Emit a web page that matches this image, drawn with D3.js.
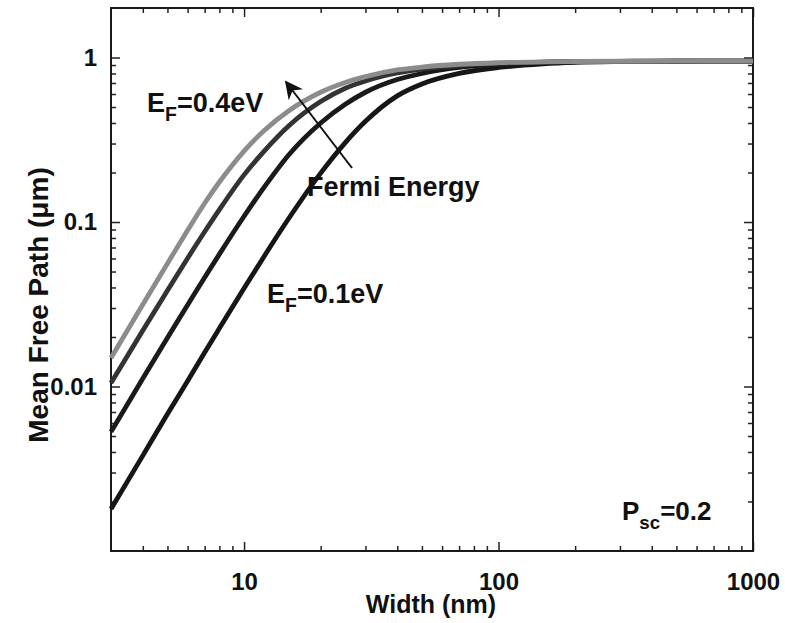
<!DOCTYPE html>
<html>
<head>
<meta charset="utf-8">
<script src="https://cdn.jsdelivr.net/npm/d3@7"></script>
<style>
body{margin:0;background:#fff;}
text{font-family:"Liberation Sans",Arial,Helvetica,sans-serif;font-weight:bold;fill:#111;}
.tick line{stroke:#222;stroke-width:1.5;}
</style>
</head>
<body>
<script>
// width (nm) sample points
var widths=[3,4,5,6,7,8,10,12,15,20,25,30,40,50,70,100,150,200,300,500,1000];
// mean free path (um) for each Fermi energy
var mfp01=[0.0018,0.0038,0.0068,0.0108,0.0161,0.0226,0.0396,0.0620,0.1054,0.1982,0.3041,0.4092,0.5843,0.69,0.80,0.87,0.915,0.933,0.944,0.949,0.95];
var mfp02=[0.0053,0.0112,0.0198,0.0313,0.0460,0.0638,0.1084,0.1628,0.2563,0.40,0.52,0.615,0.735,0.80,0.87,0.91,0.935,0.943,0.948,0.95,0.95];
var mfp03=[0.0105,0.0219,0.0384,0.0602,0.0872,0.1189,0.1934,0.27,0.385,0.54,0.65,0.72,0.805,0.85,0.895,0.922,0.938,0.944,0.948,0.95,0.95];
var mfp04=[0.0149,0.0315,0.056,0.089,0.13,0.175,0.27,0.36,0.475,0.615,0.705,0.765,0.84,0.875,0.91,0.93,0.942,0.946,0.949,0.95,0.95];

var xMajor=[10,100,1000];
var xMinor=[4,5,6,7,8,9,20,30,40,50,60,70,80,90,200,300,400,500,600,700,800,900];
var yMajor=[0.01,0.1,1];
var yMinor=[0.002,0.003,0.004,0.005,0.006,0.007,0.008,0.009,0.02,0.03,0.04,0.05,0.06,0.07,0.08,0.09,0.2,0.3,0.4,0.5,0.6,0.7,0.8,0.9];

var W=785, H=623;
var mLeft=111, mRight=753, mTop=8, mBottom=551;

var svg=d3.select("body").append("svg").attr("width",W).attr("height",H);

var x=d3.scaleLog().domain([3,1000]).range([mLeft,mRight]);
var y=d3.scaleLog().domain([0.001,2]).range([mBottom,mTop]);

function fmt(d) {
	return xMajor.indexOf(d)>=0 || yMajor.indexOf(d)>=0 ? String(d) : "";
}

function sizeTicks(g, majors) {
	g.selectAll(".tick").each(function(d) {
		var big=majors.indexOf(d)>=0;
		var ln=d3.select(this).select("line");
		var x2=+ln.attr("x2")||0, y2=+ln.attr("y2")||0;
		if (x2!=0) ln.attr("x2",(x2>0?1:-1)*(big?9:5));
		if (y2!=0) ln.attr("y2",(y2>0?1:-1)*(big?9:5));
	});
	g.select(".domain").remove();
}

function styleLabels(g) {
	g.selectAll("text").attr("font-size",24).attr("fill","#111")
		.style("font-family","Liberation Sans, Arial, sans-serif").style("font-weight","bold");
}

var xTicks=xMajor.concat(xMinor), yTicks=yMajor.concat(yMinor);

var gb=svg.append("g").attr("transform","translate(0,"+mBottom+")")
	.call(d3.axisBottom(x).tickValues(xTicks).tickFormat(fmt).tickSize(-9).tickPadding(22));
sizeTicks(gb,xMajor);
styleLabels(gb);

var gt=svg.append("g").attr("transform","translate(0,"+mTop+")")
	.call(d3.axisTop(x).tickValues(xTicks).tickFormat("").tickSize(-9));
sizeTicks(gt,xMajor);

var gl=svg.append("g").attr("transform","translate("+mLeft+",0)")
	.call(d3.axisLeft(y).tickValues(yTicks).tickFormat(fmt).tickSize(-9).tickPadding(14));
sizeTicks(gl,yMajor);
styleLabels(gl);

var gr=svg.append("g").attr("transform","translate("+mRight+",0)")
	.call(d3.axisRight(y).tickValues(yTicks).tickFormat("").tickSize(-9));
sizeTicks(gr,yMajor);

svg.append("rect").attr("x",mLeft).attr("y",mTop).attr("width",mRight-mLeft).attr("height",mBottom-mTop)
	.attr("fill","none").attr("stroke","#1a1a1a").attr("stroke-width",2);

// curves, lowest energy first so the grey one sits on top
var series=[
	{vals:mfp01,color:"#161616"},
	{vals:mfp02,color:"#1a1a1a"},
	{vals:mfp03,color:"#333333"},
	{vals:mfp04,color:"#8c8c8c"}
];
var line=d3.line().x(function(d){return x(d[0]);}).y(function(d){return y(d[1]);}).curve(d3.curveMonotoneX);
svg.selectAll(".curve").data(series).enter().append("path")
	.attr("class","curve")
	.attr("d",function(s){return line(widths.map(function(w,i){return [w,s.vals[i]];}));})
	.attr("fill","none").attr("stroke",function(s){return s.color;}).attr("stroke-width",4.8)
	.attr("stroke-linejoin","round");

// arrow
svg.append("defs").append("marker").attr("id","ah").attr("viewBox","0 0 10 10")
	.attr("refX",9).attr("refY",5).attr("markerWidth",9).attr("markerHeight",9).attr("orient","auto")
	.append("path").attr("d","M0,0L10,5L0,10L3,5Z").attr("fill","#111");
svg.append("line").attr("x1",352).attr("y1",168).attr("x2",286).attr("y2",82)
	.attr("stroke","#111").attr("stroke-width",2).attr("marker-end","url(#ah)");

// annotations
function label(xp,yp,size,main,sub,rest) {
	var t=svg.append("text").attr("x",xp).attr("y",yp).attr("font-size",size);
	t.append("tspan").text(main);
	t.append("tspan").attr("dy",9).attr("font-size",size*0.72).text(sub);
	t.append("tspan").attr("dy",-9).text(rest);
}
label(147,112,27,"E","F","=0.4eV");
label(267,303,27,"E","F","=0.1eV");
label(622,520,26,"P","sc","=0.2");
svg.append("text").attr("x",307).attr("y",196).attr("font-size",27).text("Fermi Energy");

svg.append("text").attr("x",(mLeft+mRight)/2-1).attr("y",613).attr("text-anchor","middle").attr("font-size",25).text("Width (nm)");
svg.append("text").attr("transform","translate(48,305) rotate(-90)").attr("text-anchor","middle").attr("font-size",28).text("Mean Free Path (\u03bcm)");
</script>
</body>
</html>
